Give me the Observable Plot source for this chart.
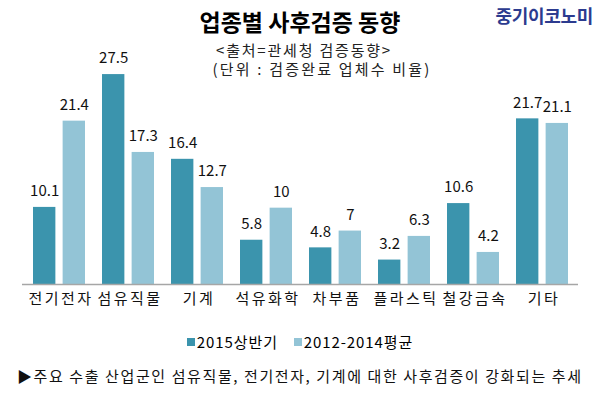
<!DOCTYPE html>
<html>
<head>
<meta charset="utf-8">
<script src="https://cdn.jsdelivr.net/npm/d3@7"></script>
<script src="https://cdn.jsdelivr.net/npm/@observablehq/plot@0.6"></script>
<style>
  html, body { margin: 0; padding: 0; background: #fff; }
  #wrap { position: relative; width: 600px; height: 394px; overflow: hidden; font-family: "Noto Sans CJK KR", "Noto Sans", sans-serif; color: #000; }
  .abs { position: absolute; white-space: pre; }
  #title { left: 0; width: 600px; top: 6px; text-align: center; font-size: 23px; font-weight: bold; line-height: 30px; }
  #logo { right: 7px; top: 2px; font-size: 18px; font-weight: bold; color: #2c3b8f; line-height: 26px; letter-spacing: -0.3px; }
  #sub1 { left: 4px; width: 600px; top: 40px; text-align: center; font-size: 15px; line-height: 20px; color: #222; letter-spacing: 1.8px; }
  #sub2 { left: 22px; width: 600px; top: 59px; text-align: center; font-size: 15px; line-height: 20px; color: #222; letter-spacing: 2.2px; }
  #chart { left: 0; top: 0; }
  #chart g[aria-label="x-axis tick label"] text { letter-spacing: 2.5px; }
  #legend { left: 0; width: 600px; top: 331px; display: flex; justify-content: center; font-size: 15px; line-height: 22px; padding-left: 0; }
  .item { display: flex; align-items: center; margin: 0 8px; letter-spacing: 0.9px; }
  .sw { width: 8px; height: 8px; margin-right: 2px; display: inline-block; }
  #foot { left: 17px; top: 364px; font-size: 15px; line-height: 24px; color: #111; letter-spacing: 1.6px; }
</style>
</head>
<body>
<div id="wrap">
  <div id="chart" class="abs"></div>
  <div id="title" class="abs">업종별 사후검증 동향</div>
  <div id="logo" class="abs">중기이코노미</div>
  <div id="sub1" class="abs">&lt;출처=관세청 검증동향&gt;</div>
  <div id="sub2" class="abs">(단위 : 검증완료 업체수 비율)</div>
  <div id="legend" class="abs"></div>
  <div id="foot" class="abs">▶주요 수출 산업군인 섬유직물, 전기전자, 기계에 대한 사후검증이 강화되는 추세</div>
</div>
<script>
const categories = ["전기전자", "섬유직물", "기계", "석유화학", "차부품", "플라스틱", "철강금속", "기타"];
const series = ["2015상반기", "2012-2014평균"];
const values2015 = [10.1, 27.5, 16.4, 5.8, 4.8, 3.2, 10.6, 21.7];
const valuesAvg = [21.4, 17.3, 12.7, 10, 7, 6.3, 4.2, 21.1];
const colors = ["#3b94ad", "#93c4d6"];

const data = categories.map((c, i) => ({cat: c, a: values2015[i], b: valuesAvg[i]}));

const W = 600, H = 320, ML = 22, MR = 22;
const step = (W - ML - MR) / 8;
const bw = step * 0.75;             // group band width
const barW = 22.5;
const inset = bw - barW;
const off = (bw - barW) / 2;

const chart = Plot.plot({
  width: W,
  height: H,
  marginLeft: ML,
  marginRight: MR,
  marginTop: 55,
  marginBottom: 36,
  style: {fontFamily: "'Noto Sans CJK KR', 'Noto Sans', sans-serif", background: "transparent"},
  x: {domain: categories, paddingInner: 0.25, paddingOuter: 0.125, label: null},
  y: {domain: [0, 30], axis: null},
  marks: [
    Plot.barY(data, {x: "cat", y: "a", fill: colors[0], insetRight: inset}),
    Plot.barY(data, {x: "cat", y: "b", fill: colors[1], insetLeft: inset}),
    Plot.ruleY([0], {stroke: "#a6a6a6", strokeWidth: 1.5}),
    Plot.text(data, {x: "cat", y: "a", text: d => String(d.a), dx: -off, dy: -16, fontSize: 15, fill: "#111"}),
    Plot.text(data, {x: "cat", y: "b", text: d => String(d.b), dx: off, dy: -16, fontSize: 15, fill: "#111"}),
    Plot.axisX({tickSize: 0, tickPadding: 9, fontSize: 15, fill: "#111", label: null, dx: 1.5})
  ]
});
document.getElementById("chart").appendChild(chart);

const legend = document.getElementById("legend");
series.forEach((s, i) => {
  const it = document.createElement("div");
  it.className = "item";
  const sw = document.createElement("span");
  sw.className = "sw";
  sw.style.background = colors[i];
  it.appendChild(sw);
  it.appendChild(document.createTextNode(s));
  legend.appendChild(it);
});
</script>
</body>
</html>
